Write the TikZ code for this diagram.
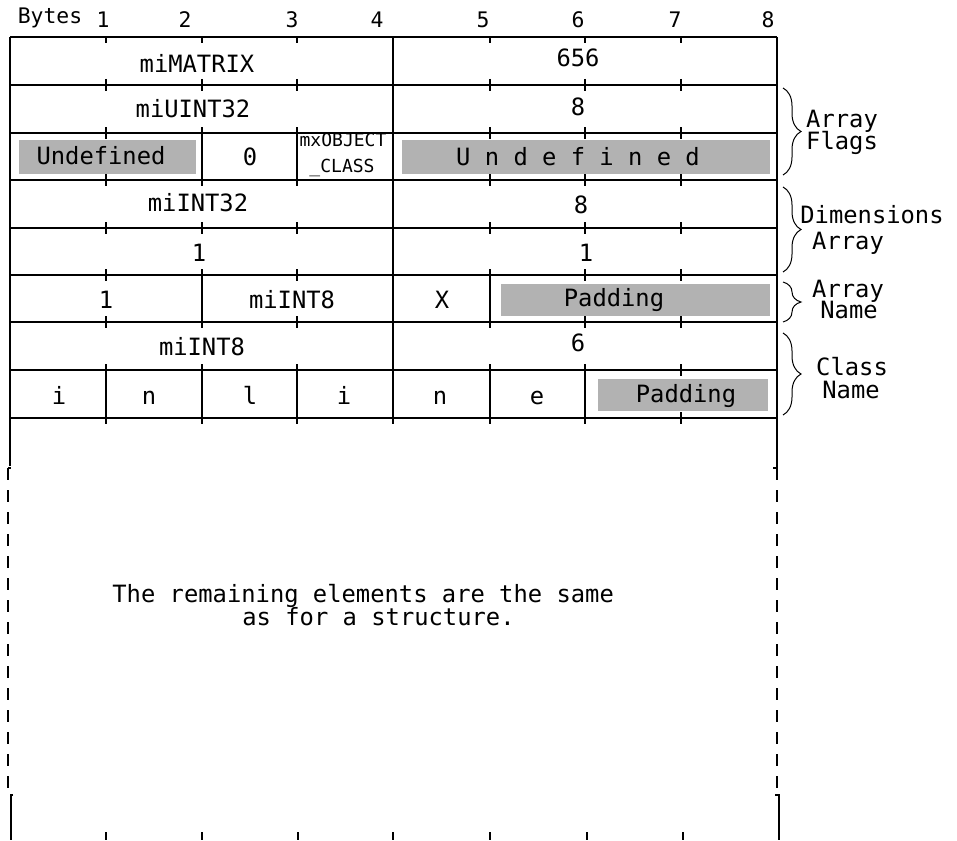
\documentclass[tikz,border=0pt]{standalone}
\usepackage{fontspec}
\setmainfont{DejaVu Sans Mono}
\usetikzlibrary{decorations.pathreplacing}
\begin{document}
\begin{tikzpicture}[x=0.5pt,y=-0.5pt,
  gridln/.style={line width=1pt},
  thickln/.style={line width=1.4pt},
  tickln/.style={line width=1pt},
  padbox/.style={fill=black!30, draw=none},
  celltxt/.style={font=\fontsize{11.9}{12}\selectfont, inner sep=0pt, anchor=base},
  smalltxt/.style={font=\fontsize{9}{10}\selectfont, inner sep=0pt, anchor=base},
  hdrtxt/.style={font=\fontsize{10.7}{12}\selectfont, inner sep=0pt, anchor=base},
  bracetxt/.style={font=\fontsize{11.9}{12}\selectfont, inner sep=0pt, anchor=base},
  brc/.style={decorate, decoration={brace, amplitude=9pt}, line width=0.5pt},
  dashln/.style={line width=1pt, dash pattern=on 6pt off 5pt}
]
\useasboundingbox (0,0) rectangle (957,840);

% horizontal lines
\foreach \y in {37,85,133,180,228,275,370,418}
  \draw[gridln] (10,\y) -- (777,\y);
\draw[thickln] (9,322) -- (777,322);

% outer verticals
\draw[gridln] (10,37) -- (10,466);
\draw[gridln] (8,468) -- (11,468);
\draw[dashln] (8,468) -- (8,793);
\draw[gridln] (13,795) -- (11,795) -- (11,840);
\draw[gridln] (777,37) -- (777,468) -- (773,468);
\draw[dashln] (777,468) -- (777,793);
\draw[gridln] (775,795) -- (779,795) -- (779,840);

% middle divider
\draw[thickln] (393,37) -- (393,424);

% ticks
\foreach \x in {106,202,297,490,585,681} {
  \draw[tickln] (\x,37) -- (\x,43);
  \foreach \y in {85,133,180,228,275,322,370,418}
    \draw[tickln] (\x,\y-6) -- (\x,\y+6);
}
\foreach \x in {106,202,298,393,490,587,683}
  \draw[tickln] (\x,832) -- (\x,840);

% full inner verticals
\draw[gridln] (202,133) -- (202,180);
\draw[gridln] (297,133) -- (297,180);
\draw[gridln] (202,275) -- (202,322);
\draw[gridln] (490,275) -- (490,322);
\foreach \x in {106,202,297,490,585}
  \draw[gridln] (\x,370) -- (\x,418);

% grey fields
\fill[padbox] (19,140) rectangle (196,174);
\fill[padbox] (402,140) rectangle (770,174);
\fill[padbox] (501,284) rectangle (770,316);
\fill[padbox] (598,379) rectangle (768,411);

% header
\node[hdrtxt] (bytes) at (50,24) {Bytes};
\node[hdrtxt] (b1) at (103,28) {1};
\node[hdrtxt] (b2) at (185,28) {2};
\node[hdrtxt] (b3) at (292,28) {3};
\node[hdrtxt] (b4) at (377,28) {4};
\node[hdrtxt] (b5) at (483,28) {5};
\node[hdrtxt] (b6) at (578,28) {6};
\node[hdrtxt] (b7) at (675,28) {7};
\node[hdrtxt] (b8) at (768,28) {8};

% row 1
\node[celltxt] (r1a) at (197,73) {miMATRIX};
\node[celltxt] (r1b) at (578,67) {656};
% row 2
\node[celltxt] (r2a) at (193,118) {miUINT32};
\node[celltxt] (r2b) at (578,115) {8};
% row 3
\node[celltxt] (r3a) at (101,164) {Undefined};
\node[celltxt] (r3b) at (250,165) {0};
\node[smalltxt] (r3c) at (343,147) {mxOBJECT};
\node[smalltxt] (r3d) at (342,172) {\_CLASS};
\node[celltxt] (r3e) at (578,165) {U n d e f i n e d};
% row 4
\node[celltxt] (r4a) at (198,211) {miINT32};
\node[celltxt] (r4b) at (581,213) {8};
% row 5
\node[celltxt] (r5a) at (199,261) {1};
\node[celltxt] (r5b) at (586,261) {1};
% row 6
\node[celltxt] (r6a) at (106,308) {1};
\node[celltxt] (r6b) at (292,308) {miINT8};
\node[celltxt] (r6c) at (442,308) {X};
\node[celltxt] (r6d) at (614,306) {Padding};
% row 7
\node[celltxt] (r7a) at (202,355) {miINT8};
\node[celltxt] (r7b) at (578,351) {6};
% row 8
\node[celltxt] (r8a) at (59,404) {i};
\node[celltxt] (r8b) at (149,404) {n};
\node[celltxt] (r8c) at (250,404) {l};
\node[celltxt] (r8d) at (344,404) {i};
\node[celltxt] (r8e) at (440,404) {n};
\node[celltxt] (r8f) at (537,404) {e};
\node[celltxt] (r8g) at (686,402) {Padding};

% remaining text
\node[celltxt, anchor=base west] (rem1) at (112,602) {The remaining elements are the same};
\node[celltxt, anchor=base west] (rem2) at (242,625) {as for a structure.};

% braces
\coordinate (af1) at (783,88);  \coordinate (af2) at (783,175);
\coordinate (da1) at (783,187); \coordinate (da2) at (783,272);
\coordinate (an1) at (783,282); \coordinate (an2) at (783,322);
\coordinate (cn1) at (783,333); \coordinate (cn2) at (783,415);
\draw[brc] (af1) -- (af2);
\draw[brc] (da1) -- (da2);
\draw[brc] (an1) -- (an2);
\draw[brc] (cn1) -- (cn2);

\node[bracetxt] (laf1) at (842,127) {Array};
\node[bracetxt] (laf2) at (842,149) {Flags};
\node[bracetxt] (lda1) at (872,223) {Dimensions};
\node[bracetxt] (lda2) at (848,249) {Array};
\node[bracetxt] (lan1) at (848,297) {Array};
\node[bracetxt] (lan2) at (849,318) {Name};
\node[bracetxt] (lcn1) at (852,375) {Class};
\node[bracetxt] (lcn2) at (851,398) {Name};
\end{tikzpicture}
\end{document}
